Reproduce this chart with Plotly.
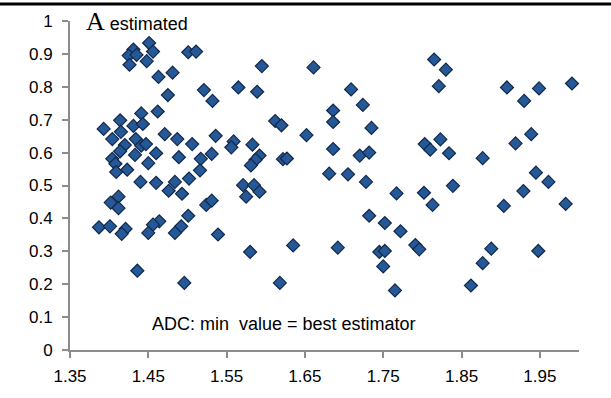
import plotly.graph_objects as go

# Data
x_values = [
    1.451, 1.456, 1.431, 1.425, 1.435, 1.426, 1.448, 1.501, 1.511, 1.463,
    1.481, 1.475, 1.521, 1.532, 1.462, 1.441, 1.414, 1.393, 1.415, 1.431,
    1.443, 1.404, 1.420, 1.434, 1.441, 1.447, 1.471, 1.487, 1.506, 1.536,
    1.414, 1.433, 1.460, 1.489, 1.517, 1.531, 1.404, 1.408, 1.450, 1.423,
    1.409, 1.516, 1.502, 1.440, 1.460, 1.484, 1.476, 1.493, 1.412, 1.402,
    1.412, 1.524, 1.531, 1.501, 1.464, 1.456, 1.450, 1.492, 1.484, 1.387,
    1.401, 1.421, 1.416, 1.539, 1.436, 1.496,
    1.595, 1.661, 1.565, 1.589, 1.709, 1.724, 1.686, 1.686, 1.612, 1.620,
    1.652, 1.559, 1.556, 1.583, 1.592, 1.587, 1.581, 1.622, 1.627, 1.686,
    1.720, 1.681, 1.705, 1.728, 1.571, 1.585, 1.592, 1.575, 1.580, 1.635,
    1.692, 1.618,
    1.815, 1.830, 1.821, 1.908, 1.735, 1.732, 1.803, 1.810, 1.823, 1.834,
    1.877, 1.919, 1.767, 1.802, 1.839, 1.813, 1.904, 1.732, 1.752, 1.772,
    1.791, 1.796, 1.745, 1.752, 1.750, 1.765, 1.888, 1.877, 1.862, 1.930,
    1.949, 1.991, 1.939, 1.945, 1.961, 1.929, 1.983, 1.948,
]
y_values = [
    0.933, 0.907, 0.913, 0.895, 0.897, 0.867, 0.878, 0.905, 0.907, 0.830,
    0.843, 0.775, 0.790, 0.757, 0.725, 0.719, 0.698, 0.672, 0.663, 0.681,
    0.687, 0.641, 0.623, 0.641, 0.621, 0.626, 0.656, 0.641, 0.626, 0.651,
    0.604, 0.593, 0.598, 0.586, 0.581, 0.596, 0.581, 0.566, 0.568, 0.548,
    0.541, 0.546, 0.521, 0.511, 0.508, 0.511, 0.484, 0.475, 0.466, 0.448,
    0.431, 0.441, 0.454, 0.408, 0.391, 0.381, 0.356, 0.376, 0.356, 0.373,
    0.376, 0.368, 0.353, 0.351, 0.241, 0.204,
    0.863, 0.859, 0.798, 0.785, 0.792, 0.745, 0.728, 0.693, 0.696, 0.683,
    0.653, 0.634, 0.616, 0.624, 0.591, 0.578, 0.561, 0.580, 0.582, 0.611,
    0.591, 0.536, 0.534, 0.511, 0.501, 0.501, 0.481, 0.466, 0.298, 0.318,
    0.311, 0.204,
    0.883, 0.852, 0.802, 0.798, 0.675, 0.600, 0.626, 0.609, 0.640, 0.598,
    0.583, 0.628, 0.476, 0.478, 0.499, 0.441, 0.438, 0.408, 0.386, 0.361,
    0.319, 0.306, 0.298, 0.301, 0.254, 0.181, 0.308, 0.264, 0.196, 0.757,
    0.795, 0.810, 0.656, 0.539, 0.511, 0.483, 0.444, 0.301,
]

x_ticks = [1.35, 1.45, 1.55, 1.65, 1.75, 1.85, 1.95]
x_tick_labels = ["1.35", "1.45", "1.55", "1.65", "1.75", "1.85", "1.95"]
y_ticks = [0, 0.1, 0.2, 0.3, 0.4, 0.5, 0.6, 0.7, 0.8, 0.9, 1]
y_tick_labels = ["0", "0.1", "0.2", "0.3", "0.4", "0.5", "0.6", "0.7", "0.8", "0.9", "1"]

title_letter = "A"
title_rest = "estimated"
note_text = "ADC: min  value = best estimator"

fig = go.Figure()
fig.add_trace(go.Scatter(
    x=x_values, y=y_values, mode="markers",
    marker=dict(symbol="diamond", size=10, color="#245896",
                line=dict(color="#12284a", width=1.2)),
    showlegend=False, cliponaxis=False,
))

axis_font = dict(family="Liberation Sans, Arial, sans-serif", size=17, color="#000000")

fig.update_layout(
    width=611, height=398,
    margin=dict(l=70, r=32, t=18, b=46),
    paper_bgcolor="white", plot_bgcolor="white",
    font=axis_font,
    xaxis=dict(
        range=[1.35, 2.0], tickvals=x_ticks, ticktext=x_tick_labels,
        showgrid=False, zeroline=False, showline=True, linecolor="#8c8c8c", linewidth=2,
        ticks="outside", ticklen=6, tickcolor="#8c8c8c", tickwidth=1.5,
        tickfont=axis_font, ticklabelstandoff=4,
    ),
    yaxis=dict(
        range=[0, 1], tickvals=y_ticks, ticktext=y_tick_labels,
        showgrid=False, zeroline=False, showline=True, linecolor="#8c8c8c", linewidth=2,
        ticks="outside", ticklen=6, tickcolor="#8c8c8c", tickwidth=1.5,
        tickfont=axis_font, ticklabelstandoff=6,
    ),
    shapes=[dict(type="line", xref="paper", yref="paper",
                 x0=-0.2, x1=1.2, y0=1.052, y1=1.052,
                 line=dict(color="#000000", width=3))],
    annotations=[
        dict(xref="paper", yref="paper", x=0.027, y=1.0, xanchor="left", yanchor="middle",
             text=("<span style='font-family:Liberation Serif, Times New Roman, serif;font-size:26px'>"
                   + title_letter + "</span> " + title_rest),
             showarrow=False, font=dict(family="Liberation Sans, Arial, sans-serif", size=18, color="#000")),
        dict(xref="paper", yref="paper", x=0.158, y=0.08, xanchor="left", yanchor="middle",
             text=note_text, showarrow=False,
             font=dict(family="Liberation Sans, Arial, sans-serif", size=18, color="#000")),
    ],
)

fig.write_html("out.html")
